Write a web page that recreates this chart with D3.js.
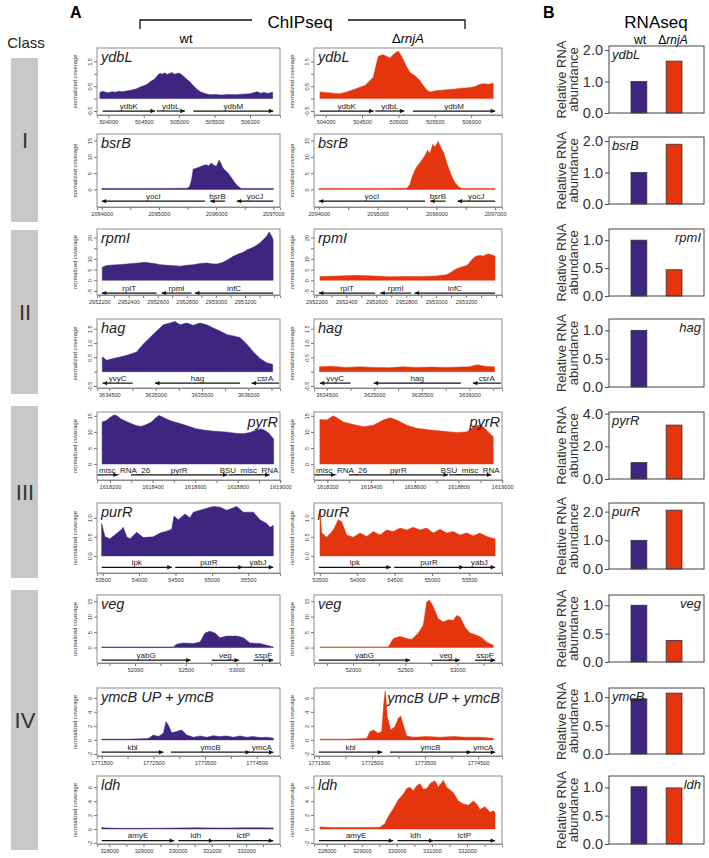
<!DOCTYPE html>
<html><head><meta charset="utf-8">
<script src="https://cdn.jsdelivr.net/npm/d3@7"></script>
<style>body{margin:0;background:#fff}text{font-family:"Liberation Sans",Arial,Helvetica,sans-serif}</style>
</head><body>
<script>
// ---------------- DATA ----------------
const rowGenes = ["ydbL","bsrB","rpmI","hag","pyrR","purR","veg","ymcB","ldh"];
const chipTitles = ["ydbL","bsrB","rpmI","hag","pyrR","purR","veg","ymcB UP + ymcB","ldh"];
const classNames = ["I","II","III","IV"];

const xDomains = [[503840,506424],[2093918,2097117],[2952184,2953440],[3634367,3636342],[1618139,1618999],[53422,55936],[51626,53427],[1771409,1774950],[327640,332996]];
const yDomains = [[-0.66,2.04],[-5.4,17],[-6.9,24],[-0.57,1.84],[-5.0,16.2],[-0.45,1.39],[-5.0,17],[-2.3,7.4],[-2.15,7.6]];
const geneYs = [-0.5,-3.6,-6.0,-0.4,-3.4,-0.3,-4.1,-1.76,-1.67];

const yTicks = [[-0.5,0,0.5,1,1.5],[0,5,10,15],[-5,0,5,10,15,20],[-0.5,0,0.5,1,1.5],[0,5,10,15],[0,0.5,1],[0,5,10,15],[-2,0,2,4,6],[-2,0,2,4,6]];
const yTickLabels = [["-0.5","","0.5","","1.5"],["0","5","10","15"],["-5","0","5","10","","20"],["-0.5","","0.5","1.0","1.5"],["0","5","10","15"],["0.0","0.5","1.0"],["0","5","10","15"],["-2","0","2","4","6"],["-2","0","2","4","6"]];

const xTicks = [
  [504000,504500,505000,505500,506000],
  [2094000,2094500,2095000,2095500,2096000,2096500,2097000],
  [2952200,2952300,2952400,2952500,2952600,2952700,2952800,2952900,2953000,2953100,2953200,2953300,2953400],
  [3634500,3634750,3635000,3635250,3635500,3635750,3636000,3636250],
  [1618200,1618300,1618400,1618500,1618600,1618700,1618800,1618900,1619000],
  [53500,54000,54500,55000,55500],
  [51750,52000,52250,52500,52750,53000,53250],
  [1771500,1772000,1772500,1773000,1773500,1774000,1774500],
  [328000,328500,329000,329500,330000,330500,331000,331500,332000,332500]];
const xTickLabelled = [
  [504000,504500,505000,505500,506000],
  [2094000,2095000,2096000,2097000],
  [2952200,2952400,2952600,2952800,2953000,2953200],
  [3634500,3635000,3635500,3636000],
  [1618200,1618400,1618600,1618800,1619000],
  [53500,54000,54500,55000,55500],
  [52000,52500,53000],
  [1771500,1772500,1773500,1774500],
  [328000,329000,330000,331000,332000]];

// genes: [name, start, end, strand]
const genes_ydbL = [["ydbK",503920,504659,1],["ydbL",504682,505082,1],["ydbM",505200,506330,1]];
const genes_bsrB = [["yocI",2094000,2095807,-1],["bsrB",2095895,2096157,-1],["yocJ",2096361,2097000,-1]];
const genes_rpmI = [["rplT",2952217,2952593,-1],["rpmI",2952627,2952833,-1],["infC",2952856,2953393,-1]];
const genes_hag  = [["yvyC",3634428,3634752,-1],["hag",3634993,3635910,-1],["csrA",3636036,3636330,-1]];
const genes_pyrR = [["misc_RNA_26",1618139,1618237,1],["pyrR",1618298,1618752,1],["BSU_misc_RNA",1618757,1618950,1]];
const genes_purR = [["ipk",53486,54450,1],["purR",54496,55424,1],["yabJ",55424,55844,1]];
const genes_veg  = [["yabG",51672,52547,1],["veg",52755,53023,1],["sspF",53167,53361,1]];
const genes_ymcB = [["kbl",1771500,1772693,1],["ymcB",1772839,1774371,1],["ymcA",1774371,1774823,1]];
const genes_ldh  = [["amyE",327780,329900,1],["ldh",330020,331045,1],["lctP",331045,332800,1]];

// coverage tracks [position, normalized coverage]
const ydbL_wt = [[503880,0.25],[503920,0.3],[503950,0.27],[504000,0.24],[504050,0.28],[504100,0.26],[504150,0.3],[504200,0.28],[504250,0.31],[504300,0.33],[504350,0.36],[504400,0.4],[504450,0.47],[504500,0.52],[504550,0.58],[504600,0.7],[504650,0.78],[504700,0.95],[504730,1.02],[504760,0.98],[504800,1.04],[504830,0.97],[504850,1.0],[504900,1.05],[504930,0.98],[504950,1.0],[505000,1.03],[505050,0.93],[505100,0.8],[505150,0.68],[505200,0.52],[505250,0.38],[505300,0.28],[505350,0.22],[505400,0.18],[505450,0.16],[505500,0.17],[505600,0.15],[505700,0.17],[505800,0.16],[505900,0.18],[506000,0.2],[506050,0.24],[506100,0.28],[506150,0.22],[506200,0.25],[506250,0.21],[506320,0.26]];
const ydbL_ko = [[503922,0.27],[504000,0.25],[504100,0.22],[504197,0.2],[504300,0.28],[504400,0.38],[504480,0.47],[504541,0.53],[504600,0.7],[504655,0.86],[504690,1.3],[504724,1.7],[504760,1.75],[504792,1.77],[504840,1.7],[504884,1.64],[504930,1.78],[504965,1.86],[504999,1.92],[505035,1.75],[505067,1.57],[505110,1.3],[505159,1.05],[505195,0.98],[505228,0.92],[505290,0.75],[505342,0.53],[505390,0.35],[505434,0.27],[505520,0.32],[505600,0.34],[505663,0.36],[505760,0.38],[505860,0.42],[505938,0.43],[506050,0.48],[506120,0.58],[506166,0.6],[506240,0.58],[506304,0.62]];
const bsrB_wt = [[2094000,0.3],[2094500,0.3],[2095000,0.3],[2095500,0.35],[2095540,1.0],[2095570,2.9],[2095600,6.2],[2095650,6.5],[2095715,6.9],[2095770,7.3],[2095830,7.6],[2095870,7.2],[2095917,8.1],[2095960,7.4],[2096004,7.1],[2096030,8.0],[2096050,9.0],[2096080,8.1],[2096120,6.6],[2096160,5.8],[2096208,5.0],[2096250,4.0],[2096295,2.9],[2096340,1.8],[2096380,1.0],[2096440,0.3],[2096700,0.3],[2097000,0.3]];
const bsrB_ko = [[2094000,0.3],[2094500,0.3],[2095000,0.3],[2095500,0.35],[2095550,1.5],[2095580,3.5],[2095650,6.5],[2095720,8.2],[2095800,10.2],[2095850,12],[2095890,11],[2095940,13.8],[2095980,13],[2096030,14.8],[2096060,13.5],[2096090,12.4],[2096130,11],[2096170,8.5],[2096210,6.5],[2096260,4],[2096320,2],[2096380,0.8],[2096430,0.3],[2097000,0.3]];
const rpmI_wt = [[2952220,6.1],[2952250,6.9],[2952300,7.2],[2952350,7.4],[2952387,7.6],[2952450,8.0],[2952513,8.4],[2952547,8.1],[2952580,7.8],[2952616,7.3],[2952650,7.1],[2952685,6.9],[2952720,6.8],[2952753,6.6],[2952800,7.0],[2952845,7.3],[2952890,7.8],[2952936,8.1],[2952970,7.7],[2953005,7.6],[2953040,8.2],[2953062,8.9],[2953090,10.0],[2953119,11.2],[2953150,12.2],[2953188,13.1],[2953215,14.3],[2953245,15.1],[2953275,16.2],[2953302,17.5],[2953325,19.0],[2953348,20.6],[2953366,22.6],[2953380,21.0],[2953393,19.0]];
const rpmI_ko = [[2952224,1.8],[2952350,2.0],[2952469,2.3],[2952580,2.0],[2952692,1.7],[2952800,1.8],[2952914,1.8],[2953000,2.0],[2953070,2.6],[2953092,3.4],[2953115,4.5],[2953137,5.4],[2953159,6.0],[2953180,6.4],[2953204,6.9],[2953220,8.0],[2953237,9.5],[2953255,10.8],[2953271,11.4],[2953293,11.6],[2953315,11.4],[2953332,11.9],[2953348,12.3],[2953371,11.9],[2953393,11.4]];
const hag_wt = [[3634424,0.52],[3634471,0.4],[3634543,0.46],[3634600,0.5],[3634687,0.57],[3634740,0.63],[3634795,0.69],[3634867,0.97],[3634939,1.19],[3635011,1.42],[3635083,1.64],[3635155,1.7],[3635209,1.75],[3635263,1.64],[3635335,1.7],[3635406,1.62],[3635478,1.7],[3635550,1.64],[3635622,1.53],[3635694,1.42],[3635766,1.3],[3635838,1.25],[3635910,1.19],[3635982,0.97],[3636054,0.69],[3636126,0.46],[3636198,0.31],[3636263,0.26]];
const hag_ko = [[3634424,0.17],[3634550,0.19],[3634700,0.15],[3634850,0.17],[3635000,0.15],[3635150,0.14],[3635300,0.17],[3635450,0.15],[3635600,0.16],[3635750,0.15],[3635900,0.16],[3636000,0.17],[3636080,0.24],[3636180,0.18],[3636263,0.17]];
const pyrR_wt = [[1618163,13.1],[1618181,13.5],[1618200,14.5],[1618219,15.3],[1618233,15.0],[1618252,14.0],[1618275,13.3],[1618299,12.6],[1618322,12.0],[1618346,11.7],[1618369,12.2],[1618393,13.0],[1618412,14.2],[1618430,15.1],[1618449,14.6],[1618473,13.8],[1618496,13.2],[1618529,12.6],[1618567,11.8],[1618604,11.0],[1618647,10.5],[1618694,10.2],[1618741,10.0],[1618788,9.6],[1618825,9.4],[1618858,9.8],[1618886,10.5],[1618910,10.9],[1618929,10.4],[1618947,9.6],[1618961,8.4],[1618969,7.8]];
const pyrR_ko = [[1618166,13.9],[1618197,13.7],[1618227,15.0],[1618243,14.4],[1618273,13.1],[1618319,12.3],[1618365,11.6],[1618410,12.1],[1618456,13.7],[1618487,14.4],[1618517,13.7],[1618563,12.1],[1618609,11.1],[1618670,10.6],[1618730,10.2],[1618792,9.8],[1618837,10.0],[1618868,11.6],[1618891,12.1],[1618913,11.6],[1618936,10.0],[1618959,8.5]];
const purR_wt = [[53486,0.85],[53532,0.5],[53600,0.45],[53700,0.6],[53761,0.7],[53783,0.75],[53830,0.5],[53875,0.45],[53967,0.62],[54058,0.48],[54195,0.5],[54287,0.6],[54379,0.65],[54448,0.7],[54480,1.05],[54539,0.95],[54631,1.1],[54699,1.0],[54745,1.15],[54837,1.2],[54929,1.25],[55020,1.3],[55112,1.28],[55204,1.2],[55341,1.3],[55432,1.15],[55569,1.15],[55661,0.95],[55753,0.85],[55799,0.75],[55844,0.8]];
const purR_ko = [[53502,1.21],[53525,0.6],[53592,0.49],[53680,0.68],[53747,0.95],[53792,0.9],[53859,0.55],[53947,0.49],[54037,0.6],[54127,0.51],[54215,0.64],[54304,0.55],[54394,0.68],[54482,0.64],[54572,0.73],[54661,0.68],[54750,0.75],[54839,0.68],[54929,0.73],[55017,0.6],[55107,0.7],[55196,0.6],[55284,0.64],[55374,0.55],[55464,0.6],[55552,0.53],[55641,0.6],[55731,0.51],[55819,0.46],[55844,0.45]];
const veg_wt = [[51672,0.2],[52000,0.2],[52377,0.2],[52410,1.1],[52475,1.5],[52574,1.3],[52640,1.8],[52689,4.7],[52738,5.3],[52787,4.7],[52836,3.2],[52902,3.7],[53000,3.7],[53066,3.2],[53131,1.5],[53230,1.3],[53295,0.75],[53361,0.2]];
const veg_ko = [[51683,0.2],[52338,0.2],[52386,2.9],[52450,3.6],[52514,2.9],[52562,2.6],[52625,4.7],[52673,7.2],[52706,14.7],[52731,15.4],[52763,13.6],[52817,9.3],[52865,8.3],[52913,9.0],[52961,8.8],[52993,10.4],[53025,9.9],[53073,6.6],[53120,4.7],[53185,4.0],[53233,3.2],[53280,1.8],[53344,0.75]];
const ymcB_wt = [[1771500,0.1],[1772000,0.1],[1772403,0.2],[1772500,0.7],[1772597,0.47],[1772693,0.94],[1772745,2.6],[1772790,2.1],[1772855,1.0],[1772952,1.2],[1773048,1.4],[1773145,0.7],[1773274,0.38],[1773403,0.56],[1773532,0.38],[1773661,0.6],[1773790,0.47],[1773919,0.56],[1774048,0.38],[1774177,0.56],[1774306,0.38],[1774435,0.47],[1774564,0.33],[1774694,0.38],[1774823,0.24]];
const ymcB_ko = [[1771522,0.1],[1772000,0.1],[1772402,0.2],[1772464,1.2],[1772526,1.4],[1772620,0.94],[1772684,1.2],[1772728,5.6],[1772752,7.0],[1772790,3.3],[1772854,1.4],[1772935,1.9],[1772997,3.1],[1773042,3.4],[1773091,2.1],[1773155,0.56],[1773280,0.38],[1773532,0.47],[1773783,0.38],[1774033,0.47],[1774286,0.38],[1774536,0.38],[1774787,0.24]];
const ldh_wt = [[327780,0.2],[327900,0.15],[328200,0.1],[328600,0.1],[329000,0.1],[329500,0.12],[330000,0.15],[330500,0.17],[331000,0.15],[331500,0.15],[332000,0.18],[332500,0.17],[332800,0.15]];
const ldh_ko = [[327811,0.3],[328190,0.2],[328951,0.2],[329520,0.25],[329663,0.8],[329757,1.8],[329899,2.9],[330042,4.2],[330184,5.0],[330281,5.8],[330375,6.0],[330469,5.5],[330566,6.2],[330660,6.5],[330754,5.7],[330851,5.8],[330965,6.6],[331087,6.9],[331181,6.0],[331324,7.0],[331421,6.0],[331515,5.6],[331609,5.2],[331751,4.0],[331894,3.6],[332036,3.4],[332178,4.0],[332275,3.6],[332369,2.8],[332512,3.2],[332654,2.4],[332748,2.6],[332797,2.4]];

// RNAseq relative abundance
const rnaWt = [1.0,1.0,1.0,1.0,1.0,1.0,1.0,0.97,1.01];
const rnaKo = [1.65,1.9,0.47,0.0,3.3,2.05,0.38,1.07,0.99];
const rnaMax = [2.13,2.13,1.2,1.2,4.1,2.3,1.18,1.16,1.2];
const rnaTicks = [[0,1,2],[0,1,2],[0,0.5,1],[0,0.5,1],[0,2,4],[0,1,2],[0,0.5,1],[0,0.5,1],[0,0.5,1]];

// ---------------- TABLES ----------------
const covWt = [ydbL_wt,bsrB_wt,rpmI_wt,hag_wt,pyrR_wt,purR_wt,veg_wt,ymcB_wt,ldh_wt];
const covKo = [ydbL_ko,bsrB_ko,rpmI_ko,hag_ko,pyrR_ko,purR_ko,veg_ko,ymcB_ko,ldh_ko];
const geneTable = [genes_ydbL,genes_bsrB,genes_rpmI,genes_hag,genes_pyrR,genes_purR,genes_veg,genes_ymcB,genes_ldh];

// ---------------- LAYOUT ----------------
const PURPLE = "#3d2580", RED = "#e4350f";
const chipTop = [48,134,229,319,412,503,595,688,776];
const chipBot = [115,207,295,388,480,573,663,756,844];
const rnaTop  = [46,137,229,319,412,503,595,688,776];
const rnaBot  = [113,204,296,387,479,569,662,754,844];
const colX = {wt:[97,280], ko:[314,502]};
const titleRight = {wt:[4], ko:[4,7]};
const rnaTitleRight = [2,3,6,8];
const classSpans = [[58,222],[230,394],[406,578],[590,850]];

const svg = d3.select("body").append("svg").attr("width",709).attr("height",858);
const defs = svg.append("defs");

// ---------- headers ----------
svg.append("text").attr("x",70).attr("y",18).attr("font-size",16).attr("font-weight","bold").text("A");
svg.append("text").attr("x",543).attr("y",18).attr("font-size",16).attr("font-weight","bold").text("B");
svg.append("text").attr("x",300).attr("y",28).attr("text-anchor","middle").attr("font-size",17).text("ChIPseq");
svg.append("path").attr("d","M140,29V20H252M348,20H465V29").attr("fill","none").attr("stroke","#111").attr("stroke-width",1.3);
svg.append("text").attr("x",186).attr("y",43).attr("text-anchor","middle").attr("font-size",13).text("wt");
const dh = svg.append("text").attr("x",408).attr("y",43).attr("text-anchor","middle").attr("font-size",13);
dh.append("tspan").text("Δ"); dh.append("tspan").attr("font-style","italic").text("rnjA");
svg.append("text").attr("x",656).attr("y",28).attr("text-anchor","middle").attr("font-size",17).text("RNAseq");
svg.append("text").attr("x",640).attr("y",44).attr("text-anchor","middle").attr("font-size",12).text("wt");
const dh2 = svg.append("text").attr("x",673).attr("y",44).attr("text-anchor","middle").attr("font-size",12);
dh2.append("tspan").text("Δ"); dh2.append("tspan").attr("font-style","italic").text("rnjA");
svg.append("text").attr("x",26).attr("y",48).attr("text-anchor","middle").attr("font-size",15).attr("fill","#222").text("Class");

// ---------- class bars ----------
classSpans.forEach((s,i)=>{
  svg.append("rect").attr("x",11).attr("y",s[0]).attr("width",27).attr("height",s[1]-s[0]).attr("fill","#c8c8c8");
  svg.append("text").attr("x",25).attr("y",(s[0]+s[1])/2+8).attr("text-anchor","middle")
    .attr("font-size",22).attr("fill","#333").text(classNames[i]);
});

// ---------- ChIP panels ----------
function chip(i, side){
  const [L,R] = colX[side];
  const T = chipTop[i], B = chipBot[i];
  const x = d3.scaleLinear().domain(xDomains[i]).range([L,R]);
  const y = d3.scaleLinear().domain(yDomains[i]).range([B,T]);
  const color = side==="wt"?PURPLE:RED;
  const data = side==="wt"?covWt[i]:covKo[i];
  const cid = "cl"+i+side;
  defs.append("clipPath").attr("id",cid).append("rect").attr("x",L).attr("y",T).attr("width",R-L).attr("height",B-T);
  const g = svg.append("g");
  const area = d3.area().x(d=>x(d[0])).y0(y(0)).y1(d=>y(d[1]));
  g.append("path").datum(data).attr("d",area).attr("fill",color).attr("stroke",color).attr("stroke-width",0.5).attr("clip-path",`url(#${cid})`);

  const gy = y(geneYs[i]);
  const gg = g.append("g").attr("clip-path",`url(#${cid})`);
  geneTable[i].forEach(([name,s,e,str])=>{
    const xs = x(s), xe = x(e);
    gg.append("line").attr("x1",xs).attr("x2",xe).attr("y1",gy).attr("y2",gy).attr("stroke","#111").attr("stroke-width",1.2);
    const tip = str>0?xe:xs, d = str>0?-1:1;
    gg.append("path").attr("d",`M${tip},${gy}L${tip+d*4.5},${gy-2.2}L${tip+d*4.5},${gy+2.2}Z`).attr("fill","#111");
    const t = gg.append("text").attr("y",gy-2.3).attr("text-anchor","middle").attr("font-size",8).attr("fill","#222").text(name);
    const w = t.node().getComputedTextLength();
    let cx = (xs+xe)/2;
    if (cx - w/2 < L+2) cx = L+2+w/2;
    t.attr("x",cx);
  });

  g.append("rect").attr("x",L).attr("y",T).attr("width",R-L).attr("height",B-T).attr("fill","none").attr("stroke","#8c8c8c").attr("stroke-width",1);

  const xa = g.append("g").attr("transform",`translate(0,${B})`)
    .call(d3.axisBottom(x).tickValues(xTicks[i]).tickSize(3).tickPadding(2)
      .tickFormat(v=>xTickLabelled[i].includes(v)?String(v):""));
  xa.select(".domain").attr("stroke","#888");
  xa.selectAll(".tick line").attr("stroke","#777");
  xa.selectAll("text").attr("font-size",5.6).attr("fill","#333").attr("font-family","Liberation Sans, Arial, sans-serif");

  const ya = g.append("g").attr("transform",`translate(${L},0)`)
    .call(d3.axisLeft(y).tickValues(yTicks[i]).tickSize(3)
      .tickFormat((v,k)=>yTickLabels[i][k]));
  ya.select(".domain").remove();
  ya.selectAll(".tick line").attr("stroke","#777");
  ya.selectAll("text").attr("font-size",5.6).attr("fill","#333").attr("font-family","Liberation Sans, Arial, sans-serif")
    .attr("x",0).attr("y",-5).attr("dy",0).attr("text-anchor","middle").attr("transform","rotate(-90)");

  g.append("text").attr("transform",`translate(${L-20},${(T+B)/2}) rotate(-90)`).attr("text-anchor","middle")
    .attr("font-size",5.8).attr("fill","#333").text("normalized coverage");

  const right = titleRight[side].includes(i);
  g.append("text").attr("x",right?R-2:L+4).attr("y",right?T+15:T+14).attr("text-anchor",right?"end":"start")
    .attr("font-size",14.5).attr("font-style","italic").attr("fill","#222").text(chipTitles[i]);
}

// ---------- RNA panels ----------
function rna(i){
  const L = 609, R = 704, T = rnaTop[i], B = rnaBot[i];
  const x = d3.scaleBand().domain(["wt","ko"]).range([L+22,R-22]).paddingInner(0.55).paddingOuter(0);
  const y = d3.scaleLinear().domain([0,rnaMax[i]]).range([B,T]);
  const g = svg.append("g");
  const vals = [["wt",rnaWt[i],PURPLE],["ko",rnaKo[i],RED]];
  vals.forEach(([k,v,c])=>{
    if (v<=0) return;
    g.append("rect").attr("x",x(k)).attr("width",x.bandwidth()).attr("y",y(v)).attr("height",B-y(v))
      .attr("fill",c).attr("stroke","#333").attr("stroke-width",0.8);
  });
  g.append("rect").attr("x",L).attr("y",T).attr("width",R-L).attr("height",B-T).attr("fill","none").attr("stroke","#444").attr("stroke-width",1);
  const ya = g.append("g").attr("transform",`translate(${L},0)`)
    .call(d3.axisLeft(y).tickValues(rnaTicks[i]).tickSize(4).tickPadding(2).tickFormat(d3.format(".1f")));
  ya.select(".domain").remove();
  ya.selectAll(".tick line").attr("stroke","#444");
  ya.selectAll("text").attr("font-size",14.5).attr("fill","#333").attr("font-family","Liberation Sans, Arial, sans-serif");
  const lab = g.append("text").attr("transform",`translate(567,${(T+B)/2}) rotate(-90)`).attr("text-anchor","middle").attr("font-size",13).attr("fill","#333");
  lab.append("tspan").attr("x",0).attr("dy",-1).text("Relative RNA");
  lab.append("tspan").attr("x",0).attr("dy",12).text("abundance");
  const right = rnaTitleRight.includes(i);
  g.append("text").attr("x",right?R-3:L+3).attr("y",T+13).attr("text-anchor",right?"end":"start")
    .attr("font-size",13).attr("font-style","italic").attr("fill","#222").text(rowGenes[i]);
}

for (let i=0;i<9;i++){ chip(i,"wt"); chip(i,"ko"); rna(i); }
</script>
</body></html>
